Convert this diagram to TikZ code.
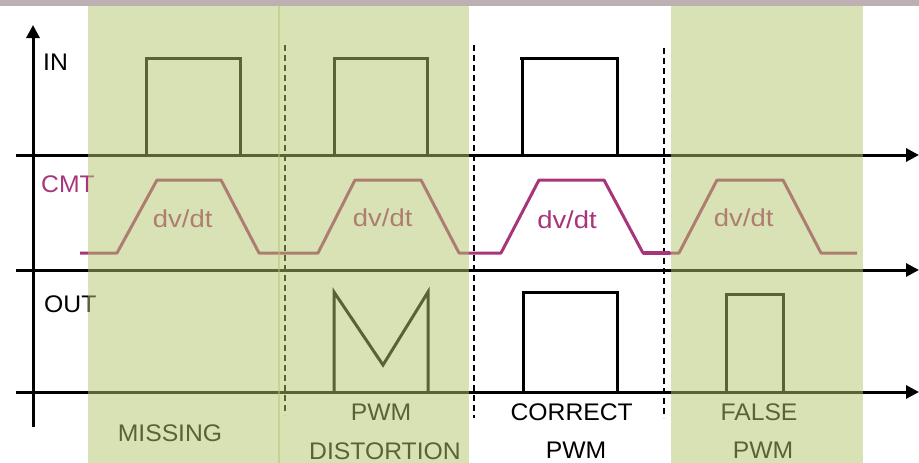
\documentclass[tikz,border=0pt]{standalone}
\usepackage{fontspec}
\setmainfont{Liberation Sans}
\usetikzlibrary{arrows.meta}
\definecolor{cmt}{RGB}{168,53,122}
\definecolor{ovl}{RGB}{180,198,106}
\definecolor{topbar}{RGB}{189,176,178}
\tikzset{
  axis/.style={line width=3pt, -{Triangle[length=13pt,width=13pt]}},
  pulse/.style={line width=3pt, line join=miter},
  trace/.style={line width=3pt, cmt, line join=round},
  sep/.style={line width=1.3pt, dash pattern=on 6pt off 4pt},
  lbl/.style={font=\fontsize{24}{28}\selectfont, inner sep=0pt, xscale=1.03},
  dvdt/.style={font=\fontsize{24.5}{28}\selectfont, inner sep=0pt, text=cmt, xscale=1.12, anchor=base},
  shade/.style={fill=ovl, fill opacity=0.5, draw=none}
}
\begin{document}
\begin{tikzpicture}[x=1pt,y=-1pt]
\useasboundingbox (0,0) rectangle (919,463);
% top bar
\fill[topbar] (0,0) rectangle (919,6);
% axes
\coordinate (ybot) at (33,427);
\coordinate (ytop) at (33,25);
\coordinate (a1s) at (16,155); \coordinate (a1e) at (919,155);
\coordinate (a2s) at (16,270); \coordinate (a2e) at (919,270);
\coordinate (a3s) at (16,392); \coordinate (a3e) at (919,392);
\draw[axis] (ybot) -- (ytop);
\draw[axis] (a1s) -- (a1e);
\draw[axis] (a2s) -- (a2e);
\draw[axis] (a3s) -- (a3e);
% dashed separators
\coordinate (d1t) at (285,45); \coordinate (d1b) at (285,415);
\coordinate (d2t) at (474,45); \coordinate (d2b) at (474,418);
\coordinate (d3t) at (664,48); \coordinate (d3b) at (664,418);
\draw[sep] (d1t) -- (d1b);
\draw[sep] (d2t) -- (d2b);
\draw[sep] (d3t) -- (d3b);
% IN pulses
\draw[pulse] (146,155) -- (146,58) -- (240,58) -- (240,155);
\draw[pulse] (334,155) -- (334,58) -- (427,58) -- (427,155);
\draw[pulse] (520,58) -- (617,58) -- (617,155);
\draw[pulse] (522,155) -- (522,58);
% CMT trace
\draw[trace] (80,253) -- (117,253) -- (157,180) -- (221,180) -- (259,253)
  -- (318,253) -- (355,180) -- (421,180) -- (459,253)
  -- (501,253) -- (539,180) -- (604,180) -- (643,253)
  -- (679,253) -- (717,180) -- (783,180) -- (821,253) -- (857,253);
\draw[cmt, line width=4.5pt] (643,253) -- (670,253);
% OUT pulses
\draw[pulse] (334,392) -- (334,292) -- (383,365) -- (428,292) -- (428,392);
\draw[pulse] (523,392) -- (523,292) -- (617,292) -- (617,392);
\draw[pulse] (726,392) -- (726,294) -- (783,294) -- (783,392);
% labels
\node[lbl, anchor=base west] (in) at (43,70) {IN};
\node[lbl, anchor=base west, text=cmt] (cmtl) at (41,192) {CMT};
\node[lbl, anchor=base west] (out) at (44,312) {OUT};
\node[dvdt] (dv1) at (182.7,227.5) {dv/dt};
\node[dvdt] (dv2) at (382.7,226.7) {dv/dt};
\node[dvdt] (dv3) at (567,228) {dv/dt};
\node[dvdt] (dv4) at (743.7,226) {dv/dt};
\node[lbl, anchor=base] (miss) at (170,441) {MISSING};
\node[lbl, anchor=base] (pwm1) at (381,420) {PWM};
\node[lbl, anchor=base] (dist) at (385,459) {DISTORTION};
\node[lbl, anchor=base] (corr) at (571.7,420) {CORRECT};
\node[lbl, anchor=base] (pwm2) at (576,458) {PWM};
\node[lbl, anchor=base] (fals) at (759,420) {FALSE};
\node[lbl, anchor=base] (pwm3) at (763,458) {PWM};
% green overlays
\fill[shade] (88,6) rectangle (279.6,463);
\fill[shade] (278.4,6) rectangle (469,463);
\fill[shade] (671,6) rectangle (862.5,463);
\end{tikzpicture}
\end{document}
